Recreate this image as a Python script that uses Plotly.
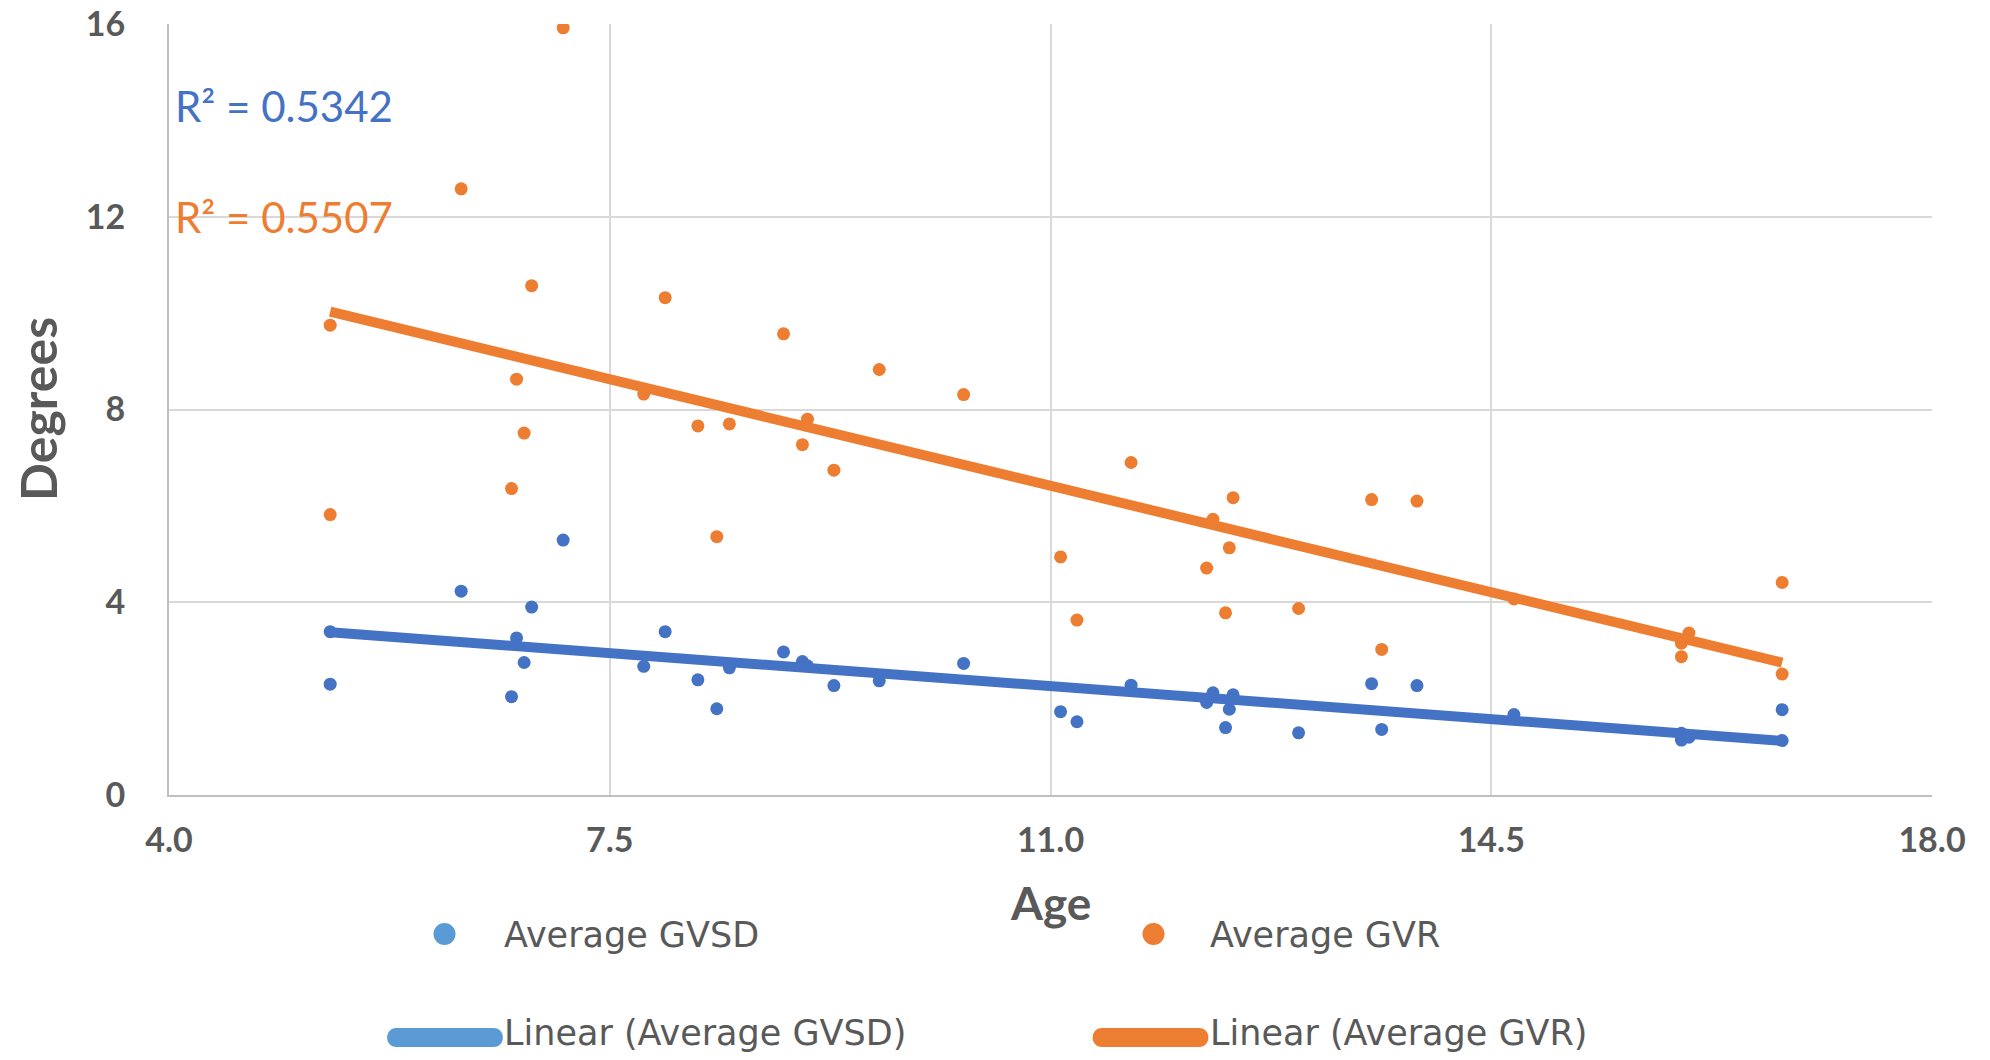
import numpy as np
import plotly.graph_objects as go

# ---- data ----
age = [5.28, 5.28, 6.32, 6.72, 6.76, 6.82, 6.88, 7.13, 7.77, 7.94, 8.20, 8.35, 8.45,
       8.88, 9.03, 9.07, 9.28, 9.64, 10.31, 11.08, 11.21, 11.64, 12.24, 12.29, 12.39,
       12.42, 12.45, 12.97, 13.55, 13.63, 13.91, 14.68, 16.01, 16.01, 16.07, 16.81, 16.81]
avg_gvsd = [3.39, 2.30, 4.23, 2.04, 3.26, 2.75, 3.90, 5.29, 2.67, 3.39, 2.39, 1.79, 2.64,
            2.97, 2.77, 2.68, 2.27, 2.37, 2.73, 1.73, 1.52, 2.28, 1.92, 2.12, 1.40,
            1.78, 2.08, 1.29, 2.31, 1.36, 2.27, 1.67, 1.28, 1.14, 1.20, 1.77, 1.13]
avg_gvr = [9.75, 5.82, 12.58, 6.36, 8.63, 7.51, 10.57, 15.92, 8.32, 10.32, 7.66, 5.36, 7.70,
           9.57, 7.27, 7.80, 6.74, 8.83, 8.31, 4.94, 3.63, 6.90, 4.71, 5.72, 3.78,
           5.13, 6.17, 3.87, 6.13, 3.02, 6.10, 4.07, 3.15, 2.87, 3.36, 4.41, 2.51]
r2_labels = ["R² = 0.5342", "R² = 0.5507"]
series_names = ["Average GVSD", "Average GVR"]
trend_names = ["Linear (Average GVSD)", "Linear (Average GVR)"]
x_ticks = [4.0, 7.5, 11.0, 14.5, 18.0]
y_ticks = [0, 4, 8, 12, 16]

BLUE = "#4472C4"
BLUE_LEG = "#5B9BD5"
ORANGE = "#ED7D31"
GRAY = "#595959"
FONT = "Lato"
LEG_FONT = "DejaVu Sans"

# page has an 8px body margin: work in reference-page pixels, convert to figure pixels
OFF = 8
W, H = 1990 - 2 * OFF, 1060 - 2 * OFF
PL, PR, PT, PB = 169, 1932, 24, 795          # plot area in page pixels
L, T = PL - OFF, PT - OFF
R = W - (PR - OFF)
B = H - (PB - OFF)
PW, PH = PR - PL, PB - PT


def px(X):
    return (X - PL) / PW


def py(Y):
    return (PB - Y) / PH


fig = go.Figure()

fig.add_trace(go.Scatter(x=age, y=avg_gvsd, mode="markers", name=series_names[0],
                         marker=dict(color=BLUE, size=13), showlegend=False))
fig.add_trace(go.Scatter(x=age, y=avg_gvr, mode="markers", name=series_names[1],
                         marker=dict(color=ORANGE, size=13), showlegend=False))

xa = np.array(age)
xfit = np.array([xa.min(), xa.max()])
for ys, col, nm in [(avg_gvsd, BLUE, trend_names[0]), (avg_gvr, ORANGE, trend_names[1])]:
    k, b = np.polyfit(xa, np.array(ys), 1)
    fig.add_trace(go.Scatter(x=xfit, y=k * xfit + b, mode="lines", name=nm,
                             line=dict(color=col, width=10), showlegend=False))

annotations = []
# R² labels
annotations.append(dict(x=4.03, y=14.3, xref="x", yref="y", text=r2_labels[0], showarrow=False,
                        xanchor="left", yanchor="middle",
                        font=dict(family=FONT, size=42, color=BLUE)))
annotations.append(dict(x=4.03, y=12.0, xref="x", yref="y", text=r2_labels[1], showarrow=False,
                        xanchor="left", yanchor="middle",
                        font=dict(family=FONT, size=42, color=ORANGE)))
# axis titles
annotations.append(dict(x=px(38), y=py(409), xref="paper", yref="paper", text="Degrees", textangle=-90,
                        showarrow=False, xanchor="center", yanchor="middle",
                        font=dict(family=FONT, size=50, color=GRAY, weight="bold")))
annotations.append(dict(x=0.5, y=py(902), xref="paper", yref="paper", text="Age",
                        showarrow=False, xanchor="center", yanchor="middle",
                        font=dict(family=FONT, size=46, color=GRAY, weight="bold")))

# manual legend
leg_font = dict(family=LEG_FONT, size=35, color=GRAY)
legend_items = [
    (series_names[0], 502, 935), (series_names[1], 1208, 935),
    (trend_names[0], 502, 1033), (trend_names[1], 1208, 1033),
]
for txt, X, Y in legend_items:
    annotations.append(dict(x=px(X), y=py(Y), xref="paper", yref="paper", text=txt,
                            showarrow=False, xanchor="left", yanchor="middle", font=leg_font))

shapes = []
for X, col in [(444.5, BLUE_LEG), (1153.5, ORANGE)]:
    shapes.append(dict(type="circle", xref="paper", yref="paper", xsizemode="pixel",
                       ysizemode="pixel", xanchor=px(X), yanchor=py(934),
                       x0=-11, x1=11, y0=-11, y1=11, fillcolor=col, line=dict(width=0)))
pill = "M -48.5,-9.5 L 48.5,-9.5 C 61,-9.5 61,9.5 48.5,9.5 L -48.5,9.5 C -61,9.5 -61,-9.5 -48.5,-9.5 Z"
for X, col in [(445, BLUE_LEG), (1150.5, ORANGE)]:
    shapes.append(dict(type="path", xref="paper", yref="paper", xsizemode="pixel",
                       ysizemode="pixel", xanchor=px(X), yanchor=py(1037.5), path=pill,
                       fillcolor=col, line=dict(width=0)))

fig.update_layout(
    width=W, height=H,
    margin=dict(l=L, r=R, t=T, b=B, autoexpand=False),
    paper_bgcolor="white", plot_bgcolor="white",
    showlegend=False,
    annotations=annotations,
    shapes=shapes,
    xaxis=dict(range=[4, 18], tickvals=x_ticks, ticktext=[f"{v:.1f}" for v in x_ticks],
               showgrid=True, gridcolor="#D9D9D9", gridwidth=2,
               showline=True, linecolor="#BFBFBF", linewidth=2, zeroline=False,
               ticks="", ticklabelstandoff=14, ticklabeloverflow="allow",
               tickfont=dict(family=FONT, size=34, color=GRAY, weight="bold")),
    yaxis=dict(range=[0, 16], tickvals=y_ticks,
               showgrid=True, gridcolor="#D9D9D9", gridwidth=2,
               showline=True, linecolor="#BFBFBF", linewidth=2, zeroline=False,
               ticks="", ticklabelstandoff=35, ticklabeloverflow="allow",
               tickfont=dict(family=FONT, size=34, color=GRAY, weight="bold")),
)

fig.write_html("out.html")
